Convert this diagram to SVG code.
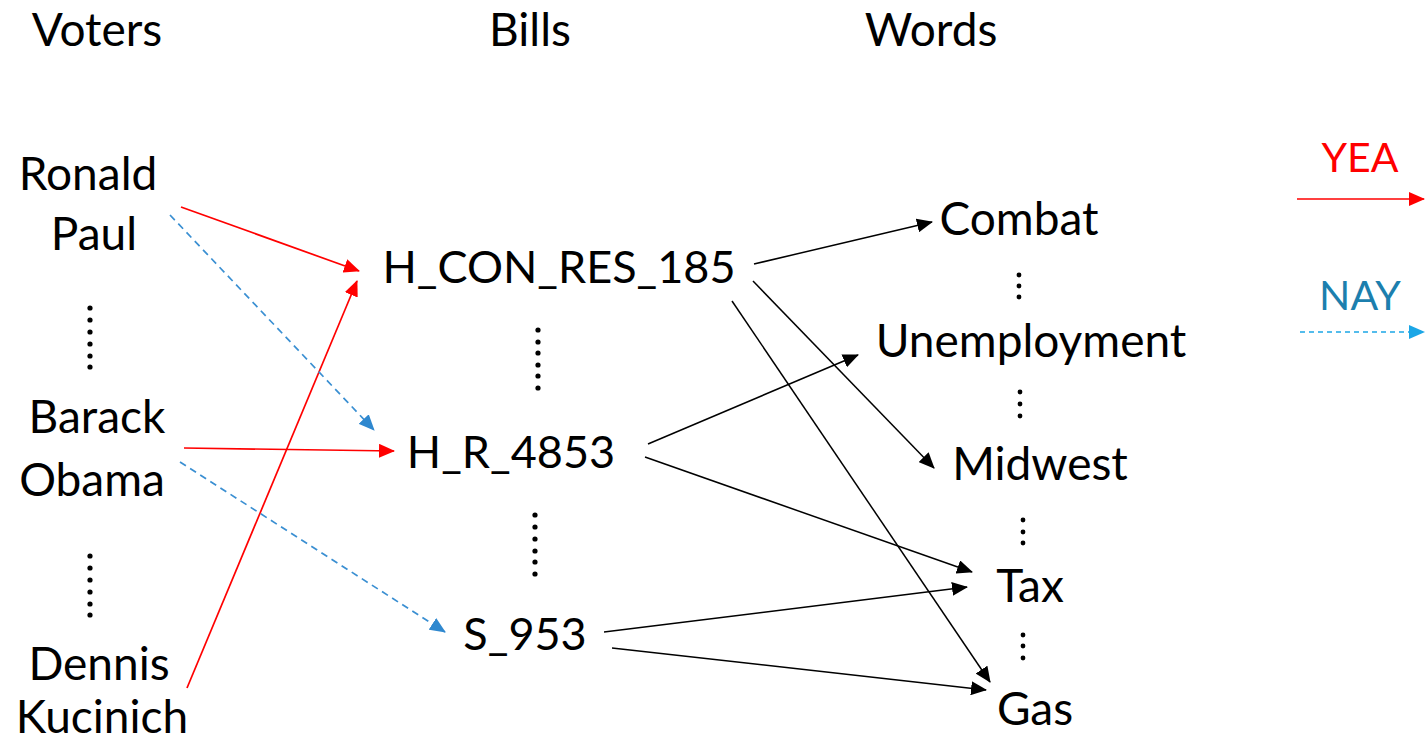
<svg xmlns="http://www.w3.org/2000/svg" width="1425" height="744" viewBox="0 0 1425 744">
  <style>
    text { font-family: Lato, "Liberation Sans", sans-serif; font-size: 46px; fill: #000; text-anchor: middle; }
    .bill text { font-size: 45px; }
    .key { font-size: 41px; }
    .yea { stroke: #ff0000; stroke-width: 1.7; fill: none; }
    .nay { stroke: #3a8fd2; stroke-width: 1.7; fill: none; stroke-dasharray: 7 5; }
    .lnk { stroke: #000; stroke-width: 1.5; fill: none; }
    .dot { fill: #000; }
  </style>
  <defs>
    <marker id="ah-red" markerUnits="userSpaceOnUse" markerWidth="16" markerHeight="14" viewBox="0 0 16 14" refX="15" refY="7" orient="auto">
      <path d="M0,0 L16,7 L0,14 Z" fill="#ff0000"/>
    </marker>
    <marker id="ah-blue" markerUnits="userSpaceOnUse" markerWidth="16" markerHeight="14" viewBox="0 0 16 14" refX="15" refY="7" orient="auto">
      <path d="M0,0 L16,7 L0,14 Z" fill="#2f88cf"/>
    </marker>
    <marker id="ah-cyan" markerUnits="userSpaceOnUse" markerWidth="16" markerHeight="14" viewBox="0 0 16 14" refX="15" refY="7" orient="auto">
      <path d="M0,0 L16,7 L0,14 Z" fill="#1ba6e6"/>
    </marker>
    <marker id="ah-black" markerUnits="userSpaceOnUse" markerWidth="16" markerHeight="14" viewBox="0 0 16 14" refX="15" refY="7" orient="auto">
      <path d="M0,0 L16,7 L0,14 Z" fill="#000"/>
    </marker>
  </defs>

  <!-- column headers -->
  <g id="headers">
    <text x="97" y="46">Voters</text>
    <text x="530" y="46">Bills</text>
    <text x="931" y="46">Words</text>
  </g>

  <!-- voters -->
  <g id="voter-ronald-paul">
    <text x="88" y="190">Ronald</text>
    <text x="94" y="250">Paul</text>
  </g>
  <g id="voter-barack-obama">
    <text x="97" y="433">Barack</text>
    <text x="92" y="496">Obama</text>
  </g>
  <g id="voter-dennis-kucinich">
    <text x="99" y="680">Dennis</text>
    <text x="102" y="733">Kucinich</text>
  </g>

  <!-- bills -->
  <g id="bill-h-con-res-185" class="bill"><text x="559" y="283">H_CON_RES_185</text></g>
  <g id="bill-h-r-4853" class="bill"><text x="511" y="468">H_R_4853</text></g>
  <g id="bill-s-953" class="bill"><text x="525" y="650">S_953</text></g>

  <!-- words -->
  <g id="word-combat"><text x="1019" y="235">Combat</text></g>
  <g id="word-unemployment"><text x="1031" y="357">Unemployment</text></g>
  <g id="word-midwest"><text x="1040" y="480">Midwest</text></g>
  <g id="word-tax"><text x="1030" y="602">Tax</text></g>
  <g id="word-gas"><text x="1035" y="725">Gas</text></g>

  <!-- elided entries -->
  <g id="ellipses" class="dot">
    <circle cx="90" cy="308" r="2.6"/><circle cx="90" cy="320" r="2.6"/><circle cx="90" cy="332" r="2.6"/>
    <circle cx="90" cy="344" r="2.6"/><circle cx="90" cy="356" r="2.6"/><circle cx="90" cy="367" r="2.6"/>

    <circle cx="90" cy="556" r="2.6"/><circle cx="90" cy="568" r="2.6"/><circle cx="90" cy="580" r="2.6"/>
    <circle cx="90" cy="592" r="2.6"/><circle cx="90" cy="604" r="2.6"/><circle cx="90" cy="615" r="2.6"/>

    <circle cx="538" cy="330" r="2.6"/><circle cx="538" cy="342" r="2.6"/><circle cx="538" cy="353" r="2.6"/>
    <circle cx="538" cy="365" r="2.6"/><circle cx="538" cy="376" r="2.6"/><circle cx="538" cy="388" r="2.6"/>

    <circle cx="535" cy="515" r="2.6"/><circle cx="535" cy="527" r="2.6"/><circle cx="535" cy="539" r="2.6"/>
    <circle cx="535" cy="551" r="2.6"/><circle cx="535" cy="562" r="2.6"/><circle cx="535" cy="574" r="2.6"/>

    <circle cx="1019" cy="275" r="2.4"/><circle cx="1019" cy="286" r="2.4"/><circle cx="1019" cy="297" r="2.4"/>
    <circle cx="1020" cy="392" r="2.4"/><circle cx="1020" cy="404" r="2.4"/><circle cx="1020" cy="416" r="2.4"/>
    <circle cx="1023" cy="520" r="2.4"/><circle cx="1023" cy="532" r="2.4"/><circle cx="1023" cy="543" r="2.4"/>
    <circle cx="1023" cy="635" r="2.4"/><circle cx="1023" cy="646" r="2.4"/><circle cx="1023" cy="658" r="2.4"/>
  </g>

  <!-- votes and bill-word links -->
  <g id="connectors">
    <line class="yea" x1="181" y1="207" x2="359" y2="271" marker-end="url(#ah-red)"/>
    <line class="yea" x1="187" y1="688" x2="357" y2="281" marker-end="url(#ah-red)"/>
    <line class="yea" x1="184" y1="448" x2="394" y2="451" marker-end="url(#ah-red)"/>

    <line class="nay" x1="170" y1="215" x2="374" y2="430" marker-end="url(#ah-blue)"/>
    <line class="nay" x1="180" y1="462" x2="445" y2="632" marker-end="url(#ah-blue)"/>

    <line class="lnk" x1="754" y1="264" x2="932" y2="222" marker-end="url(#ah-black)"/>
    <line class="lnk" x1="753" y1="281" x2="934" y2="468" marker-end="url(#ah-black)"/>
    <line class="lnk" x1="732" y1="301" x2="990" y2="682" marker-end="url(#ah-black)"/>
    <line class="lnk" x1="648" y1="444" x2="858" y2="355" marker-end="url(#ah-black)"/>
    <line class="lnk" x1="645" y1="457" x2="972" y2="572" marker-end="url(#ah-black)"/>
    <line class="lnk" x1="604" y1="632" x2="967" y2="587" marker-end="url(#ah-black)"/>
    <line class="lnk" x1="612" y1="648" x2="986" y2="690" marker-end="url(#ah-black)"/>
  </g>

  <!-- legend -->
  <g id="legend-yea">
    <text class="key" x="1360" y="172" style="fill:#ff0000">YEA</text>
    <line x1="1297" y1="199" x2="1424" y2="199" stroke="#ff0000" stroke-width="1.7" marker-end="url(#ah-red)"/>
  </g>
  <g id="legend-nay">
    <text class="key" x="1360" y="310" style="fill:#1c7fae">NAY</text>
    <line x1="1300" y1="332" x2="1424" y2="332" stroke="#1ba6e6" stroke-width="1.7" stroke-dasharray="5 4" marker-end="url(#ah-cyan)"/>
  </g>
</svg>
